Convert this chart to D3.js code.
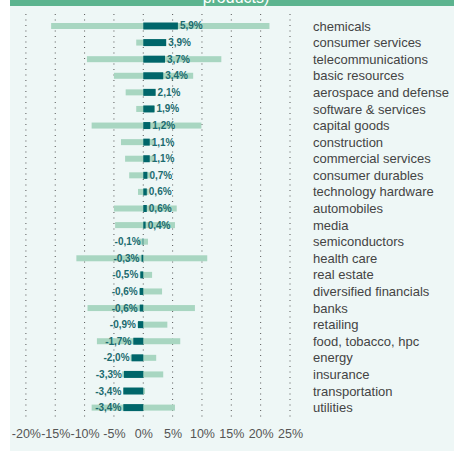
<!DOCTYPE html>
<html>
<head>
<meta charset="utf-8">
<script src="https://cdn.jsdelivr.net/npm/d3@7"></script>
<style>
  body { margin: 0; background: #fff; }
  svg { display: block; font-family: "Liberation Sans", Arial, sans-serif; }
</style>
</head>
<body>
<div id="chart"></div>
<script>
// sectors, top to bottom
const categories = [
  "chemicals", "consumer services", "telecommunications", "basic resources",
  "aerospace and defense", "software & services", "capital goods", "construction",
  "commercial services", "consumer durables", "technology hardware", "automobiles",
  "media", "semiconductors", "health care", "real estate", "diversified financials",
  "banks", "retailing", "food, tobacco, hpc", "energy", "insurance",
  "transportation", "utilities"
];
// dark bars (%)
const values = [5.9, 3.9, 3.7, 3.4, 2.1, 1.9, 1.2, 1.1, 1.1, 0.7, 0.6, 0.6,
  0.4, -0.1, -0.3, -0.5, -0.6, -0.6, -0.9, -1.7, -2.0, -3.3, -3.4, -3.4];
// light range bars (%)
const rangeMin = [-15.7, -1.2, -9.6, -5.0, -3.0, -1.2, -8.8, -3.8, -3.1, -2.4, -0.9, -5.0,
  -4.8, -0.9, -11.4, -0.6, -0.7, -9.5, -1.0, -7.9, -2.2, -3.6, -3.4, -8.8];
const rangeMax = [21.5, 3.9, 13.3, 8.5, 2.1, 2.0, 9.9, 1.8, 1.8, 1.2, 0.9, 5.7,
  5.4, 0.8, 10.9, 1.5, 3.2, 8.8, 4.1, 6.3, 2.2, 3.4, 0.3, 5.4];
const ticks = [-20, -15, -10, -5, 0, 5, 10, 15, 20, 25];

const w = 454;
const h = 451;

const svg = d3.select("#chart")
  .append("svg")
  .attr("width", w)
  .attr("height", h);

// panel + header band
svg.append("rect")
  .attr("x", 10).attr("y", 0)
  .attr("width", w - 10).attr("height", h)
  .attr("fill", "#eef7f6");

svg.append("rect")
  .attr("x", 10).attr("y", 0)
  .attr("width", w - 10).attr("height", 6)
  .attr("fill", "#5cb48f");

// title is cut off by the top edge, as in the original
svg.append("text")
  .attr("x", 236).attr("y", 3)
  .attr("text-anchor", "middle")
  .attr("fill", "#fff")
  .attr("font-size", 16)
  .text("products)");

const xScale = d3.scaleLinear()
  .domain([-20, 25])
  .range([25.9, 290]);

const yScale = d3.scaleBand()
  .domain(categories)
  .range([17.7, 415.9]);

const mid = d => yScale(d) + yScale.bandwidth() / 2;

// dotted grid
svg.append("g")
  .selectAll("line")
  .data(ticks)
  .enter()
  .append("line")
    .attr("x1", d => xScale(d))
    .attr("x2", d => xScale(d))
    .attr("y1", 14)
    .attr("y2", 417)
    .attr("stroke", "#555")
    .attr("stroke-width", 1)
    .attr("stroke-dasharray", "1,4.5");

// light range bars
svg.append("g")
  .selectAll("rect")
  .data(categories)
  .enter()
  .append("rect")
    .attr("x", (d, i) => xScale(rangeMin[i]))
    .attr("y", d => mid(d) - 3)
    .attr("width", (d, i) => xScale(rangeMax[i]) - xScale(rangeMin[i]))
    .attr("height", 6)
    .attr("fill", "#a8d6c1");

// dark bars
svg.append("g")
  .selectAll("rect")
  .data(categories)
  .enter()
  .append("rect")
    .attr("x", (d, i) => xScale(Math.min(0, values[i])))
    .attr("y", d => mid(d) - 3.5)
    .attr("width", (d, i) => Math.abs(xScale(values[i]) - xScale(0)))
    .attr("height", 7)
    .attr("fill", "#00666a");

// value labels
svg.append("g")
  .selectAll("text")
  .data(categories)
  .enter()
  .append("text")
    .attr("x", (d, i) => values[i] >= 0 ? xScale(values[i]) + 2 : xScale(values[i]) - 2)
    .attr("y", d => mid(d))
    .attr("dy", "0.35em")
    .attr("text-anchor", (d, i) => values[i] >= 0 ? "start" : "end")
    .attr("font-size", 10)
    .attr("font-weight", "bold")
    .attr("fill", "#1b6b6f")
    .text((d, i) => d3.format(".1f")(values[i]).replace(".", ",").replace("−", "-") + "%");

// category labels
svg.append("g")
  .selectAll("text")
  .data(categories)
  .enter()
  .append("text")
    .attr("x", 313)
    .attr("y", d => mid(d))
    .attr("dy", "0.35em")
    .attr("font-size", 13)
    .attr("fill", "#444")
    .text(d => d);

// x axis
const xAxis = d3.axisBottom()
  .scale(xScale)
  .tickValues(ticks)
  .tickSize(0)
  .tickFormat(d => d + "%");

const gx = svg.append("g")
  .attr("transform", "translate(0, 426)")
  .call(xAxis);

gx.select(".domain").remove();
gx.selectAll("text")
  .attr("font-size", 12.5)
  .attr("font-family", "Liberation Sans, Arial, sans-serif")
  .attr("fill", "#555");
</script>
</body>
</html>
